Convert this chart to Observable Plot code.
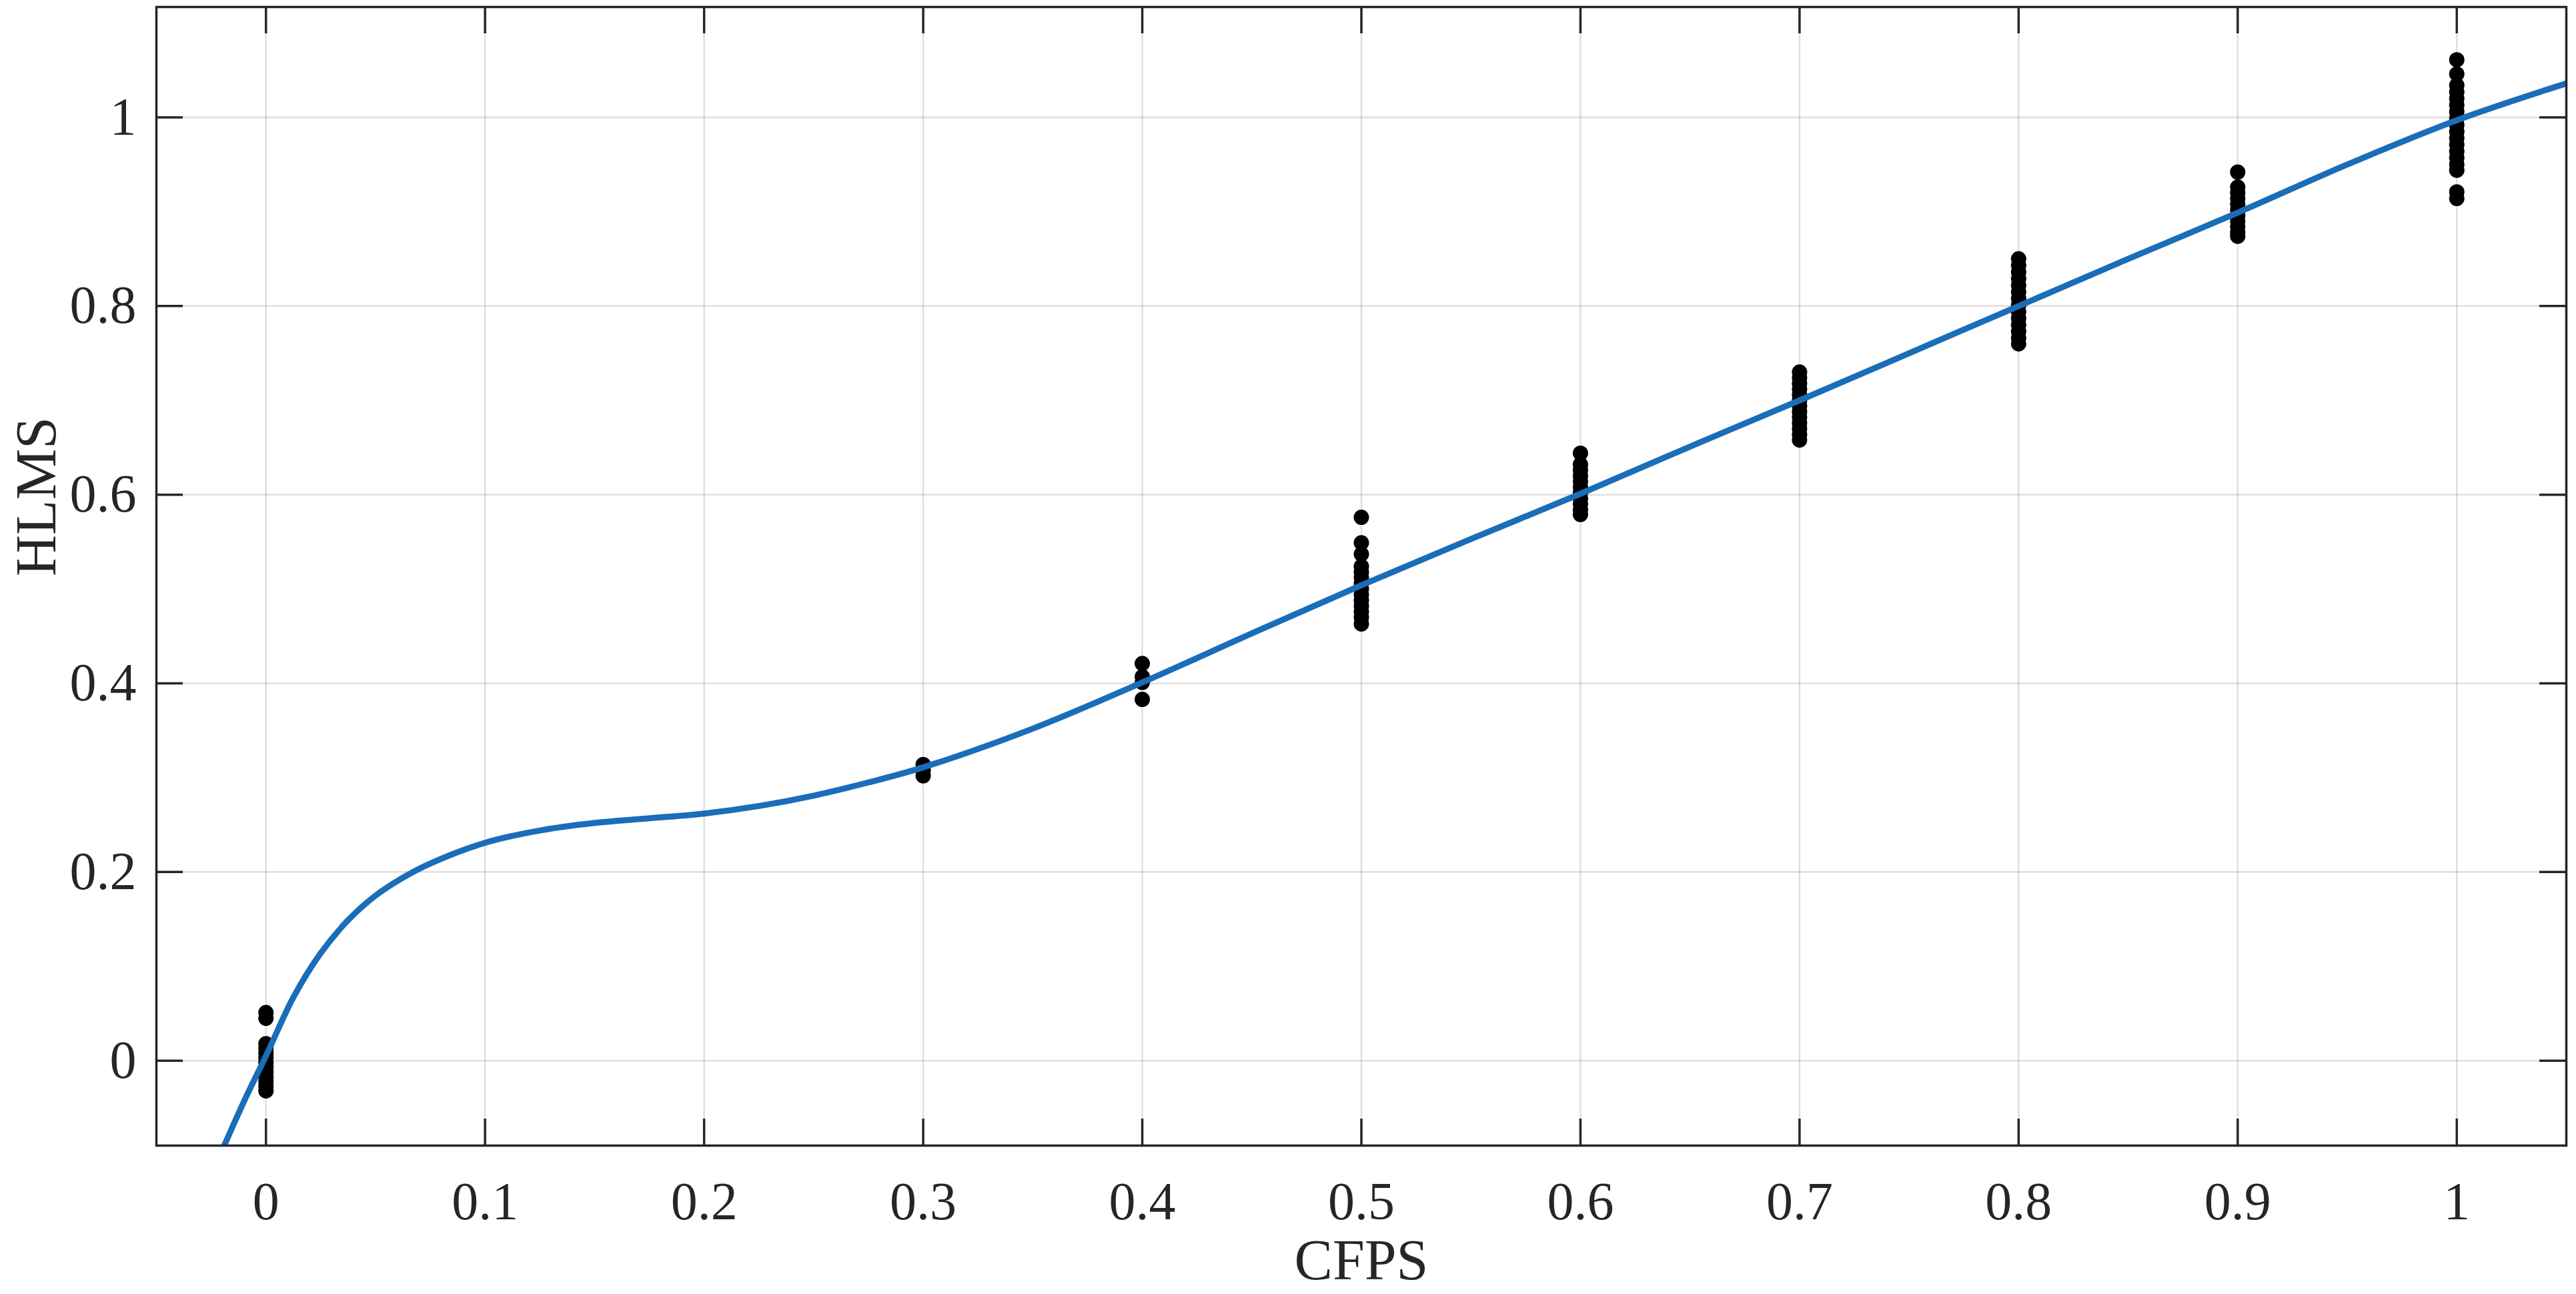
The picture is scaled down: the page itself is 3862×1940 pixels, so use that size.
<!DOCTYPE html>
<html>
<head>
<meta charset="utf-8">
<script src="https://cdn.jsdelivr.net/npm/d3@7"></script>
<script src="https://cdn.jsdelivr.net/npm/@observablehq/plot@0.6"></script>
<style>
  html, body { margin: 0; padding: 0; background: #ffffff; }
  #chart { width: 3862px; height: 1940px; }
</style>
</head>
<body>
<div id="chart"></div>
<script>
// ---- Axis ticks ----
const xTicks = [0, 0.1, 0.2, 0.3, 0.4, 0.5, 0.6, 0.7, 0.8, 0.9, 1];
const yTicks = [0, 0.2, 0.4, 0.6, 0.8, 1];
const xLabel = "CFPS";
const yLabel = "HLMS";

// ---- Observed points (HLMS values at each CFPS level) ----
const cfpsLevels = [0, 0.3, 0.4, 0.5, 0.6, 0.7, 0.8, 0.9, 1];
const hlmsAt00 = [0.051, 0.045, 0.018, 0.013, 0.008, 0.003, -0.002, -0.007, -0.012, -0.017, -0.022, -0.027, -0.032];
const hlmsAt03 = [0.314, 0.308, 0.302];
const hlmsAt04 = [0.421, 0.407, 0.401, 0.383];
const hlmsAt05 = [0.576, 0.549, 0.537, 0.524, 0.518, 0.512, 0.506, 0.500, 0.494, 0.488, 0.482, 0.476, 0.470, 0.463];
const hlmsAt06 = [0.644, 0.632, 0.626, 0.620, 0.614, 0.608, 0.602, 0.596, 0.590, 0.584, 0.579];
const hlmsAt07 = [0.730, 0.724, 0.718, 0.712, 0.706, 0.700, 0.694, 0.688, 0.682, 0.676, 0.670, 0.664, 0.658];
const hlmsAt08 = [0.850, 0.843, 0.836, 0.829, 0.822, 0.815, 0.808, 0.801, 0.794, 0.787, 0.780, 0.773, 0.766, 0.760];
const hlmsAt09 = [0.942, 0.926, 0.920, 0.914, 0.908, 0.902, 0.896, 0.890, 0.884, 0.878, 0.874];
const hlmsAt10 = [1.061, 1.046, 1.034, 1.027, 1.020, 1.013, 1.006, 0.999, 0.992, 0.985, 0.978, 0.971, 0.964, 0.957, 0.950, 0.944, 0.921, 0.914];

// ---- Fitted curve ----
const curveX = [-0.02, -0.01, 0, 0.0125, 0.025, 0.0375, 0.05, 0.0625, 0.075, 0.1, 0.125, 0.15, 0.175, 0.2, 0.225, 0.25, 0.275, 0.3, 0.35, 0.4, 0.45, 0.5, 0.55, 0.6, 0.65, 0.7, 0.75, 0.8, 0.85, 0.9, 0.95, 1.0, 1.05];
const curveY = [-0.095, -0.043, 0.005, 0.067, 0.114, 0.149, 0.175, 0.194, 0.209, 0.231, 0.244, 0.252, 0.257, 0.262, 0.270, 0.281, 0.295, 0.311, 0.352, 0.401, 0.453, 0.504, 0.553, 0.601, 0.651, 0.700, 0.750, 0.800, 0.850, 0.899, 0.950, 0.997, 1.036];

// ---- Build tables ----
const hlmsGroups = [hlmsAt00, hlmsAt03, hlmsAt04, hlmsAt05, hlmsAt06, hlmsAt07, hlmsAt08, hlmsAt09, hlmsAt10];
const points = hlmsGroups.flatMap((vals, i) => vals.map(v => ({cfps: cfpsLevels[i], hlms: v})));
const curve = curveX.map((x, i) => ({x, y: curveY[i]}));

// ---- Layout ----
const W = 3862, H = 1940;
const M = {left: 234, right: 15, top: 10, bottom: 223};
const xDomain = [-0.05, 1.05];
const yDomain = [-0.09, 1.117];
const tickLen = 40;
const tlx = tickLen * (xDomain[1] - xDomain[0]) / (W - M.left - M.right);
const tly = tickLen * (yDomain[1] - yDomain[0]) / (H - M.top - M.bottom);
const ink = "#262626";
const fmt = d => String(d);

const chart = Plot.plot({
  width: W,
  height: H,
  marginLeft: M.left,
  marginRight: M.right,
  marginTop: M.top,
  marginBottom: M.bottom,
  x: {domain: xDomain},
  y: {domain: yDomain},
  style: {
    fontFamily: "'Liberation Serif', 'Times New Roman', serif",
    fontSize: "80px",
    color: ink,
    background: "#ffffff"
  },
  marks: [
    Plot.gridX(xTicks, {stroke: ink, strokeOpacity: 0.15, strokeWidth: 2.5}),
    Plot.gridY(yTicks, {stroke: ink, strokeOpacity: 0.15, strokeWidth: 2.5}),
    Plot.axisX(xTicks, {anchor: "bottom", tickSize: 0, tickPadding: 54, label: null, fontSize: 80, tickFormat: fmt}),
    Plot.axisY(yTicks, {anchor: "left", tickSize: 0, tickPadding: 30, label: null, fontSize: 80, tickFormat: fmt}),
    Plot.dot(points, {x: "cfps", y: "hlms", r: 11.5, fill: "#000000", stroke: null}),
    Plot.line(curve, {x: "x", y: "y", stroke: "#1a6db8", strokeWidth: 9, curve: "catmull-rom", clip: true}),
    // inward ticks on all four sides
    Plot.ruleX(xTicks, {y1: yDomain[0], y2: yDomain[0] + tly, stroke: ink, strokeWidth: 3.5}),
    Plot.ruleX(xTicks, {y1: yDomain[1], y2: yDomain[1] - tly, stroke: ink, strokeWidth: 3.5}),
    Plot.ruleY(yTicks, {x1: xDomain[0], x2: xDomain[0] + tlx, stroke: ink, strokeWidth: 3.5}),
    Plot.ruleY(yTicks, {x1: xDomain[1], x2: xDomain[1] - tlx, stroke: ink, strokeWidth: 3.5}),
    Plot.frame({stroke: ink, strokeWidth: 3.5}),
    Plot.text([xLabel], {frameAnchor: "bottom", dy: 200, lineAnchor: "bottom", fontSize: 86, fill: ink}),
    Plot.text([yLabel], {frameAnchor: "left", rotate: -90, dx: -152, lineAnchor: "bottom", fontSize: 86, fill: ink})
  ]
});
document.getElementById("chart").appendChild(chart);
</script>
</body>
</html>
